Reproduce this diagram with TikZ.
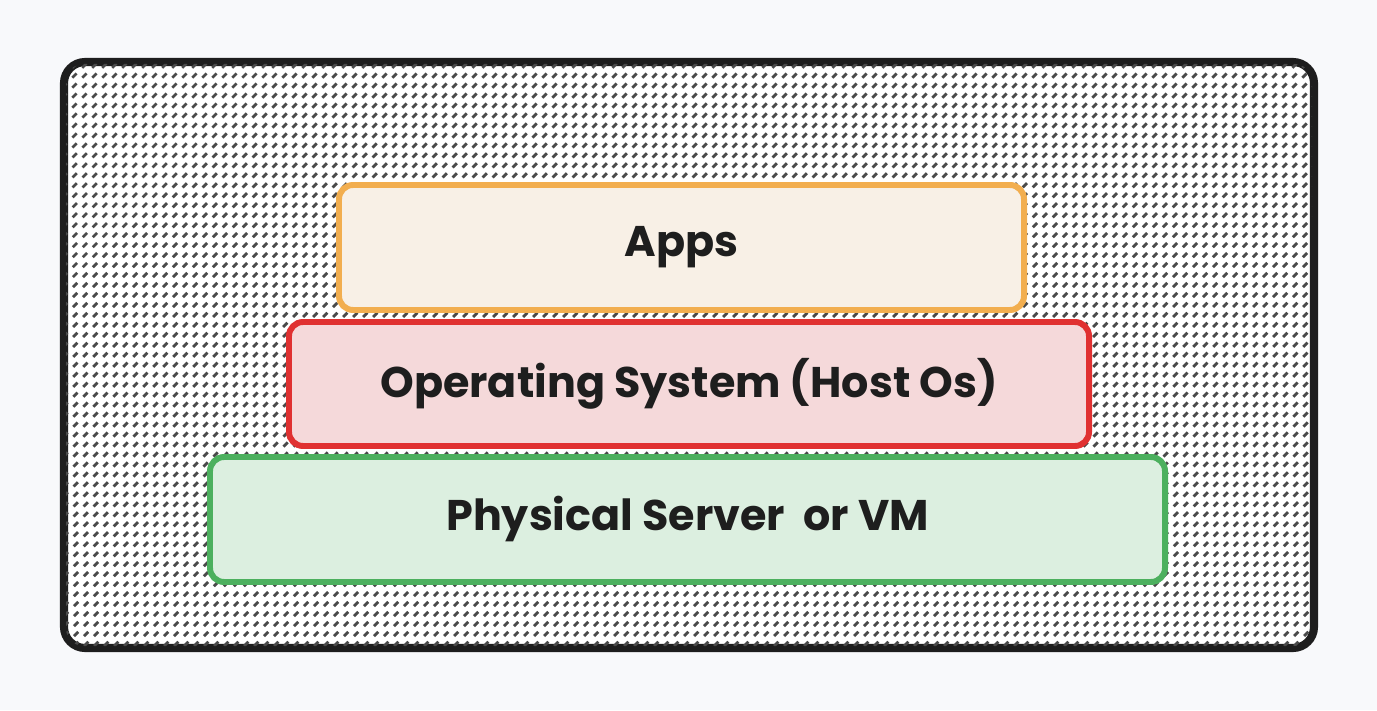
\documentclass[tikz,border=0pt]{standalone}
\usepackage{fontspec}
\setmainfont{Poppins}
\usepackage{tikz}

\definecolor{pagebg}{HTML}{F8F9FB}
\definecolor{frame}{HTML}{1E1E1E}
\definecolor{hatch}{HTML}{4A4A4A}
\definecolor{appsline}{HTML}{F2AE4F}
\definecolor{appsfill}{HTML}{F8F0E6}
\definecolor{osline}{HTML}{E03131}
\definecolor{osfill}{HTML}{F5D9DA}
\definecolor{hwline}{HTML}{4CB05E}
\definecolor{hwfill}{HTML}{DCEFE0}

\begin{document}
\begin{tikzpicture}[
	layer/.style={draw, line width=1.7pt, rounded corners=4pt, font=\fontsize{12.2}{15}\selectfont\bfseries, text=frame},
	]
	\fill[pagebg] (0,0) rectangle (13.77,7.1);
	\useasboundingbox (0,0) rectangle (13.77,7.1);
	%\draw[help lines] (0,0) grid (14,7);
	\node (host) [draw=frame, fill=white, line width=2.3pt, rounded corners=6pt, minimum width=12.5cm, minimum height=5.86cm] at (6.89,3.55) {};
	\begin{scope}
		\clip[rounded corners=5pt] (0.66,0.64) rectangle (13.12,6.46);
		\foreach \i in {0,...,190}
			\draw[hatch, line width=0.8pt, dash pattern=on 0.06cm off 0.081cm] (0.64+0.1*\i-6,0.64) -- ++(6.5,6.5);
	\end{scope}
	\node (hw) [layer, draw=hwline, fill=hwfill, minimum width=9.55cm, minimum height=1.25cm] at (6.875,1.905) {Physical Server\ \ or VM};
	\node (os) [layer, draw=osline, fill=osfill, minimum width=8.0cm, minimum height=1.24cm] at (6.89,3.26) {Operating System (Host Os)};
	\node (apps) [layer, draw=appsline, fill=appsfill, minimum width=6.85cm, minimum height=1.25cm] at (6.815,4.625) {Apps};
\end{tikzpicture}
\end{document}
